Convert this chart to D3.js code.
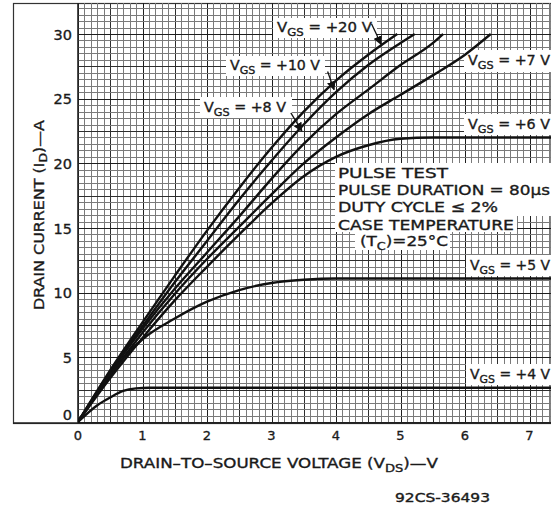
<!DOCTYPE html>
<html>
<head>
<meta charset="utf-8">
<script src="https://cdn.jsdelivr.net/npm/d3@7"></script>
<style>
  body { margin: 0; background: #fff; }
  svg text { font-family: "DejaVu Sans", sans-serif; fill: #1a1a1a; stroke: #1a1a1a; stroke-width: 0.35px; }
</style>
</head>
<body>
<div id="chart"></div>
<script>
// drain current curves, one pair of arrays per gate voltage (VDS in V, ID in A)
var vds20 = [0, 0.5, 1, 1.5, 2, 2.5, 3, 3.5, 4, 4.5, 4.95];
var id20  = [0, 4.0, 7.7, 11.3, 14.8, 18.1, 21.2, 24.0, 26.4, 28.4, 30.0];
var vds10 = [0, 0.5, 1, 1.5, 2, 2.5, 3, 3.5, 4, 4.5, 5, 5.22];
var id10  = [0, 3.9, 7.4, 10.8, 14.0, 17.2, 20.2, 23.0, 25.5, 27.6, 29.3, 30.0];
var vds8  = [0, 0.5, 1, 1.5, 2, 2.5, 3, 3.5, 4, 4.5, 5, 5.5, 5.66];
var id8   = [0, 3.8, 7.2, 10.3, 13.1, 15.9, 18.8, 21.5, 23.8, 25.7, 27.6, 29.3, 30.0];
var vds7  = [0, 0.5, 1, 1.5, 2, 2.5, 3, 3.5, 4, 4.5, 5, 5.5, 6, 6.4];
var id7   = [0, 3.6, 6.9, 9.9, 12.6, 15.1, 17.6, 20.0, 22.0, 23.8, 25.3, 26.8, 28.4, 30.0];
var vds6  = [0, 0.5, 1, 1.5, 2, 2.5, 3, 3.5, 4, 4.5, 5, 5.5, 7.4];
var id6   = [0, 3.4, 6.5, 9.4, 12.0, 14.5, 16.9, 19.0, 20.5, 21.4, 21.9, 22.0, 22.0];
var vds5  = [0, 0.25, 0.5, 0.75, 1, 1.5, 2, 2.5, 3, 3.5, 4, 7.4];
var id5   = [0, 1.9, 3.7, 5.2, 6.4, 8.0, 9.3, 10.2, 10.75, 11.0, 11.1, 11.1];
var vds4  = [0, 0.3, 0.5, 0.7, 0.9, 1.1, 7.4];
var id4   = [0, 1.3, 1.9, 2.4, 2.6, 2.65, 2.65];

var vgsNames = ["+20", "+10", "+8", "+7", "+6", "+5", "+4"];
var xTicks = [0, 1, 2, 3, 4, 5, 6, 7];
var yTicks = [0, 5, 10, 15, 20, 25, 30];
var pulseNotes = ["PULSE TEST", "PULSE DURATION = 80\u00b5s", "DUTY CYCLE \u2264 2%", "CASE TEMPERATURE"];

var curves = [
  d3.zip(vds20, id20), d3.zip(vds10, id10), d3.zip(vds8, id8), d3.zip(vds7, id7),
  d3.zip(vds6, id6), d3.zip(vds5, id5), d3.zip(vds4, id4)
];

var W = 551, H = 511;
var pLeft = 78, pRight = 551, pTop = 3, pBottom = 423;

var x = d3.scaleLinear().domain([0, 7]).range([78, 529.5]);
var y = d3.scaleLinear().domain([0, 30]).range([422, 34]);

var svg = d3.select("#chart").append("svg").attr("width", W).attr("height", H);

// left white panel with the frame
svg.append("rect").attr("x", 13.5).attr("y", pTop + 0.5).attr("width", pRight - 13.5).attr("height", pBottom - pTop)
  .attr("fill", "#fff").attr("stroke", "#333").attr("stroke-width", 1.2);

// graph paper
var grid = svg.append("g").attr("shape-rendering", "crispEdges");
var vMax = x.invert(pRight), iMax = y.invert(pTop);
function gridColor(k) { return k % 10 === 0 ? "#1e1e1e" : k % 5 === 0 ? "#2e2e2e" : "#7a7a7a"; }
function gridWidth(k) { return k % 10 === 0 ? 1.7 : k % 5 === 0 ? 1.3 : 1; }
d3.range(0, Math.floor(vMax * 10) + 1).forEach(function (k) {
  var xv = Math.round(x(k / 10)) + 0.5;
  grid.append("line").attr("x1", xv).attr("x2", xv).attr("y1", pTop).attr("y2", pBottom)
    .attr("stroke", gridColor(k)).attr("stroke-width", gridWidth(k));
});
d3.range(0, Math.floor(iMax * 2) + 1).forEach(function (k) {
  var yv = Math.round(y(k / 2)) + 0.5;
  grid.append("line").attr("x1", pLeft).attr("x2", pRight).attr("y1", yv).attr("y2", yv)
    .attr("stroke", gridColor(k)).attr("stroke-width", gridWidth(k));
});
svg.append("line").attr("x1", pLeft).attr("x2", pLeft).attr("y1", pTop).attr("y2", pBottom)
  .attr("stroke", "#222").attr("stroke-width", 1.6);
svg.append("line").attr("x1", 13).attr("x2", pRight).attr("y1", pBottom).attr("y2", pBottom)
  .attr("stroke", "#222").attr("stroke-width", 1.6);

// white label boxes
var boxes = [
  [273, 18, 104, 20], [226, 56, 99, 20], [200, 97, 92, 21],
  [464, 50, 87, 22], [464, 114, 87, 21], [466, 255, 85, 21], [466, 364, 85, 21],
  [335, 163, 216, 53], [335, 215, 182, 17], [355, 231, 95, 19]
];
svg.append("g").selectAll("rect").data(boxes).enter().append("rect")
  .attr("x", function (d) { return d[0]; }).attr("y", function (d) { return d[1]; })
  .attr("width", function (d) { return d[2]; }).attr("height", function (d) { return d[3]; })
  .attr("fill", "#fff");

// curves
svg.append("clipPath").attr("id", "plotclip").append("rect")
  .attr("x", pLeft).attr("y", pTop).attr("width", pRight - pLeft).attr("height", pBottom - pTop);
var line = d3.line().x(function (d) { return x(d[0]); }).y(function (d) { return y(d[1]); })
  .curve(d3.curveMonotoneX);
svg.append("g").attr("clip-path", "url(#plotclip)").selectAll("path").data(curves).enter().append("path")
  .attr("d", line).attr("fill", "none").attr("stroke", "#111").attr("stroke-width", 2.4)
  .attr("stroke-linejoin", "round");

// curve labels
var labelPos = [[277, 32, 95], [230, 70, 90], [204, 112, 82], [468, 65, 82], [468, 129, 82], [470, 270, 80], [470, 379, 80]];
vgsNames.forEach(function (n, i) {
  var p = labelPos[i];
  var t = svg.append("text").attr("x", p[0]).attr("y", p[1]).attr("font-size", 14)
    .attr("textLength", p[2]).attr("lengthAdjust", "spacingAndGlyphs");
  t.append("tspan").text("V");
  t.append("tspan").attr("font-size", 11).attr("dy", 4).text("GS");
  t.append("tspan").attr("dy", -4).text(" = " + n + " V");
});

// leader arrows
svg.append("defs").append("marker").attr("id", "tip").attr("viewBox", "0 0 10 10")
  .attr("refX", 9).attr("refY", 5).attr("markerWidth", 7).attr("markerHeight", 7).attr("orient", "auto")
  .append("path").attr("d", "M0,0 L10,5 L0,10 z").attr("fill", "#111");
var leaders = [[[4.55, 30.8], [4.7, 29.2]], [[3.87, 27.1], [3.97, 25.7]], [[3.3, 23.9], [3.47, 22.5]]];
leaders.forEach(function (l) {
  svg.append("line").attr("x1", x(l[0][0])).attr("y1", y(l[0][1])).attr("x2", x(l[1][0])).attr("y2", y(l[1][1]))
    .attr("stroke", "#111").attr("stroke-width", 1.3).attr("marker-end", "url(#tip)");
});

// test conditions
pulseNotes.forEach(function (s, i) {
  svg.append("text").attr("x", 338).attr("y", 178 + i * 17.2).attr("font-size", 14.5)
    .attr("textLength", [110, 212, 160, 176][i]).attr("lengthAdjust", "spacingAndGlyphs").text(s);
});
var tc = svg.append("text").attr("x", 360).attr("y", 246).attr("font-size", 14.5)
  .attr("textLength", 88).attr("lengthAdjust", "spacingAndGlyphs");
tc.append("tspan").text("(T");
tc.append("tspan").attr("font-size", 11).attr("dy", 4).text("C");
tc.append("tspan").attr("dy", -4).text(")=25\u00b0C");

// tick labels
svg.append("g").selectAll("text").data(yTicks).enter().append("text")
  .attr("x", 72).attr("y", function (d) { return y(d) + (d === 0 ? -2 : 5.5); })
  .attr("text-anchor", "end").attr("font-size", 14.5).text(function (d) { return d; });
svg.append("g").selectAll("text").data(xTicks).enter().append("text")
  .attr("x", function (d) { return x(d); }).attr("y", 440)
  .attr("text-anchor", "middle").attr("font-size", 13).text(function (d) { return d; });

// axis titles
var xt = svg.append("text").attr("x", 120).attr("y", 468).attr("font-size", 14)
  .attr("textLength", 318).attr("lengthAdjust", "spacingAndGlyphs");
xt.append("tspan").text("DRAIN\u2013TO\u2013SOURCE VOLTAGE (V");
xt.append("tspan").attr("font-size", 11).attr("dy", 4).text("DS");
xt.append("tspan").attr("dy", -4).text(")\u2014V");

var yt = svg.append("text").attr("transform", "translate(44,310) rotate(-90)").attr("font-size", 14)
  .attr("textLength", 190).attr("lengthAdjust", "spacingAndGlyphs");
yt.append("tspan").text("DRAIN CURRENT (I");
yt.append("tspan").attr("font-size", 11).attr("dy", 3).text("D");
yt.append("tspan").attr("dy", -3).text(")\u2014A");

svg.append("text").attr("x", 395).attr("y", 502).attr("font-size", 11.5)
  .attr("textLength", 95).attr("lengthAdjust", "spacingAndGlyphs").text("92CS-36493");
</script>
</body>
</html>
